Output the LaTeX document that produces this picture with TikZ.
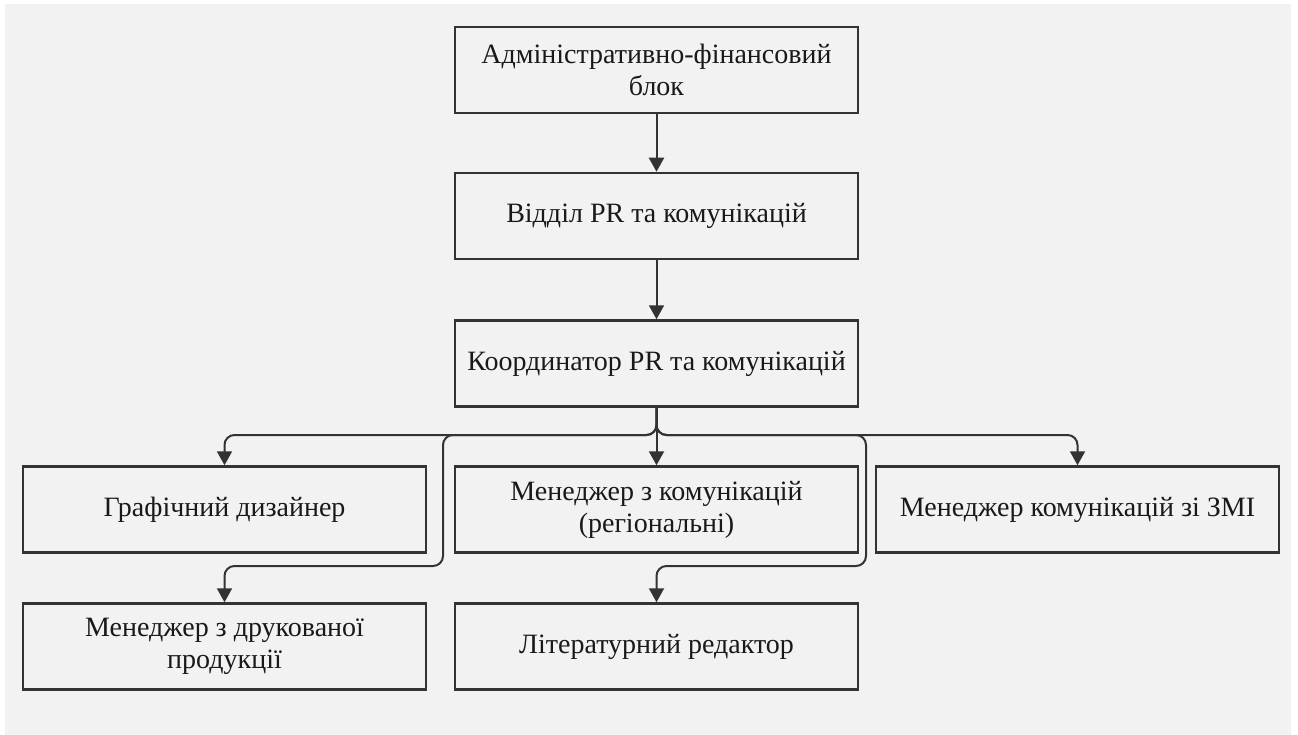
\documentclass[tikz,border=0pt]{standalone}
\usepackage{fontspec}
\setmainfont{Liberation Serif}
\usetikzlibrary{arrows.meta}
\definecolor{bg}{HTML}{F2F2F2}
\definecolor{ink}{HTML}{333333}
\begin{document}
\begin{tikzpicture}[x=1pt,y=-1pt,
  box/.style={draw=ink,line width=2.5pt,minimum width=403pt,minimum height=86pt,
    align=center,inner sep=0pt,font=\fontsize{28}{32}\selectfont,text=black!90},
  conn/.style={draw=ink,line width=2pt,rounded corners=10pt,
    -{Triangle[length=14pt,width=15pt]}}]
\fill[white] (0,0) rectangle (1298,735);
\fill[bg] (5,4) rectangle (1291,735);
\useasboundingbox (0,0) rectangle (1298,735);
\node[box] (a) at (656.5,70) {Адміністративно-фінансовий\\блок};
\node[box] (b) at (656.5,216) {Відділ PR та комунікацій};
\node[box] (c) at (656.5,363.5) {Координатор PR та комунікацій};
\node[box] (g) at (224.5,509.5) {Графічний дизайнер};
\node[box] (m) at (656.5,509.5) {Менеджер з комунікацій\\(регіональні)};
\node[box] (z) at (1077.5,509.5) {Менеджер комунікацій зі ЗМІ};
\node[box] (d) at (224.5,646.5) {Менеджер з друкованої\\продукції};
\node[box] (l) at (656.5,646.5) {Літературний редактор};
\coordinate (bus) at (656.5,435);
\coordinate (kl) at (443,435);
\coordinate (kr) at (866,435);
\coordinate (low) at (0,566);
\draw[conn] (a.south) -- (b.north);
\draw[conn] (b.south) -- (c.north);
\draw[conn] (c.south) -- (bus) -| (g.north);
\draw[conn] (c.south) -- (m.north);
\draw[conn] (c.south) -- (bus) -| (z.north);
\draw[conn] (c.south) -- (bus) -- (kl) |- (d.north |- low) -- (d.north);
\draw[conn] (c.south) -- (bus) -- (kr) |- (l.north |- low) -- (l.north);
\end{tikzpicture}
\end{document}
